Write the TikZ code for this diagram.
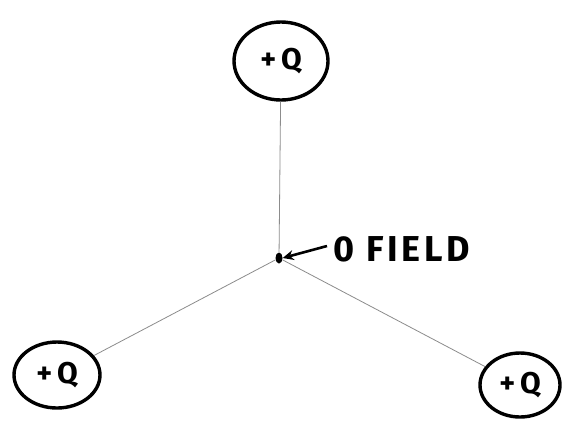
\documentclass[tikz,border=0pt]{standalone}
\usepackage{fontspec}
\setmainfont{Fira Sans}
\usetikzlibrary{shapes.geometric,arrows.meta}
\begin{document}
\begin{tikzpicture}[x=1pt,y=-1pt,
  charge/.style={ellipse, draw, line width=3.4pt, inner sep=0pt, font=\bfseries\fontsize{30}{30}\selectfont\addfontfeature{LetterSpace=16}},
  wire/.style={draw=black!45, line width=0.8pt},
  pointer/.style={-{Stealth[length=11pt,width=10pt]}, line width=2.6pt}]
\useasboundingbox (0,0) rectangle (577,437);
\fill[white] (0,0) rectangle (577,437);
\node[charge, minimum width=94pt, minimum height=78pt] (top) at (281,61) {+Q};
\node[charge, minimum width=86pt, minimum height=66pt] (bl) at (57,375) {+Q};
\node[charge, minimum width=80pt, minimum height=64pt] (br) at (520,385) {+Q};
\node[ellipse, fill, inner sep=0pt, minimum width=7pt, minimum height=11pt] (dot) at (279,258) {};
\node[anchor=west, inner sep=0pt, font=\bfseries\fontsize{36}{36}\selectfont\addfontfeature{LetterSpace=10}] (lbl) at (333,249) {0 FIELD};
\draw[wire] (top) -- (dot);
\draw[wire] (bl) -- (dot);
\draw[wire] (dot) -- (br);
\draw[pointer] (lbl.west) ++(-6pt,3pt) coordinate (tail) -- (dot.east);
\end{tikzpicture}
\end{document}
